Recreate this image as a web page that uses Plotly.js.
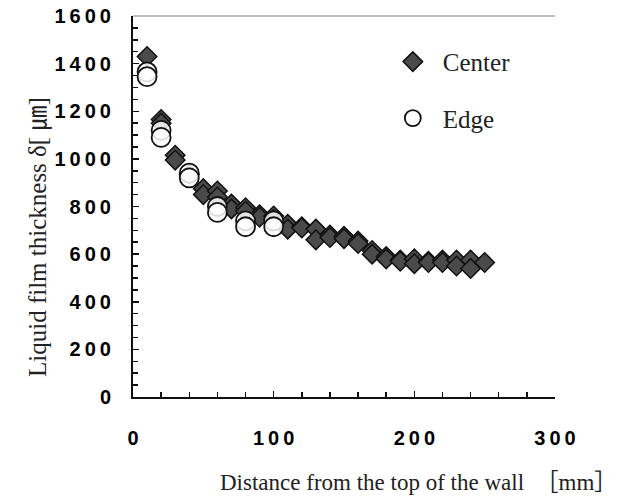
<!DOCTYPE html>
<html>
<head>
<meta charset="utf-8">
<script src="https://cdn.plot.ly/plotly-3.0.1.min.js"></script>
<style>html,body{margin:0;padding:0;background:#fff;}#chart{width:619px;height:501px;}</style>
</head>
<body>
<div id="chart"></div>
<script>
// Center (diamonds)
const centerX = [10,20,20,30,30,40,50,50,60,60,70,70,80,80,90,90,100,100,110,110,120,120,130,130,140,140,150,150,160,160,170,170,180,180,190,190,200,200,210,210,220,220,230,230,240,240,250];
const centerY = [1430,1165,1150,1015,995,935,875,850,865,840,810,790,795,780,765,755,760,745,725,705,715,710,705,660,680,670,675,665,655,645,615,600,590,580,575,570,580,560,570,565,575,565,575,550,575,540,565];
// Edge (open circles)
const edgeX = [10,10,20,20,40,40,60,60,80,80,100,100];
const edgeY = [1365,1345,1120,1090,940,920,800,775,740,715,740,715];

const xTickVals = [0,100,200,300];
const xTickText = ['0','1\u20090\u20090','2\u20090\u20090','3\u20090\u20090'];
const yTickVals = [0,200,400,600,800,1000,1200,1400,1600];
const yTickText = ['0','2\u20090\u20090','4\u20090\u20090','6\u20090\u20090','8\u20090\u20090','1\u20090\u20090\u20090','1\u20092\u20090\u20090','1\u20094\u20090\u20090','1\u20096\u20090\u20090'];

const serif = '"Liberation Serif", "Times New Roman", "DejaVu Serif", "Noto Sans CJK JP", serif';
const sans = '"Liberation Sans", Arial, sans-serif';

const traces = [
  {x: centerX, y: centerY, name: 'Center', type: 'scatter', mode: 'markers', legendgroup: 'c',
   marker: {symbol: 'diamond', size: 15, color: '#4a4a4a', line: {color: '#111111', width: 1.5}}},
  {x: edgeX, y: edgeY, name: 'Edge', type: 'scatter', mode: 'markers', legendgroup: 'e',
   marker: {symbol: 'circle', size: 19, color: 'rgba(255,255,255,0.85)', line: {color: '#111111', width: 1.8}}}
];

const layout = {
  width: 619, height: 501,
  margin: {l: 133, r: 64, t: 16, b: 104},
  paper_bgcolor: '#ffffff', plot_bgcolor: '#ffffff',
  showlegend: true,
  legend: {x: 0.592, y: 0.94, xanchor: 'left', yanchor: 'top', bgcolor: 'rgba(0,0,0,0)',
           font: {family: serif, size: 25, color: '#222'}, traceorder: 'grouped', tracegroupgap: 21,
           itemwidth: 50, itemsizing: 'trace'},
  xaxis: {range: [0, 300], tickvals: xTickVals, ticktext: xTickText, ticks: 'inside', ticklen: 6, tickwidth: 1.5,
          tickcolor: '#111', showline: true, linecolor: '#111', linewidth: 2, showgrid: false, zeroline: false,
          minor: {dtick: 20, ticks: 'inside', ticklen: 5, tickwidth: 1.5, tickcolor: '#111', showgrid: false},
          tickfont: {family: sans, size: 20, color: '#000', weight: 'bold'}, ticklabelstandoff: 22},
  yaxis: {range: [0, 1600], tickvals: yTickVals, ticktext: yTickText, ticks: 'inside', ticklen: 6, tickwidth: 1.5,
          tickcolor: '#111', showline: true, linecolor: '#111', linewidth: 2, showgrid: false, zeroline: false,
          minor: {dtick: 50, ticks: 'inside', ticklen: 5, tickwidth: 1.5, tickcolor: '#111', showgrid: false},
          tickfont: {family: sans, size: 20, color: '#000', weight: 'bold'}, ticklabelstandoff: 16},
  shapes: [{type: 'line', xref: 'paper', yref: 'paper', x0: 0, x1: 1, y0: 1, y1: 1, line: {color: '#aaaaaa', width: 1.5}}],
  annotations: [
    {text: 'Liquid film thickness δ[ ㎛]', xref: 'paper', yref: 'paper', x: -0.225, y: 0.42, textangle: -90,
     showarrow: false, xanchor: 'center', yanchor: 'middle', font: {family: serif, size: 25, color: '#222'}},
    {text: 'Distance from the top of the wall  ［mm］', xref: 'paper', yref: 'paper', x: 0.201, y: -0.2257,
     showarrow: false, xanchor: 'left', yanchor: 'middle', font: {family: serif, size: 23, color: '#222'}}
  ]
};

Plotly.newPlot('chart', traces, layout, {displayModeBar: false, staticPlot: true});
</script>
</body>
</html>
